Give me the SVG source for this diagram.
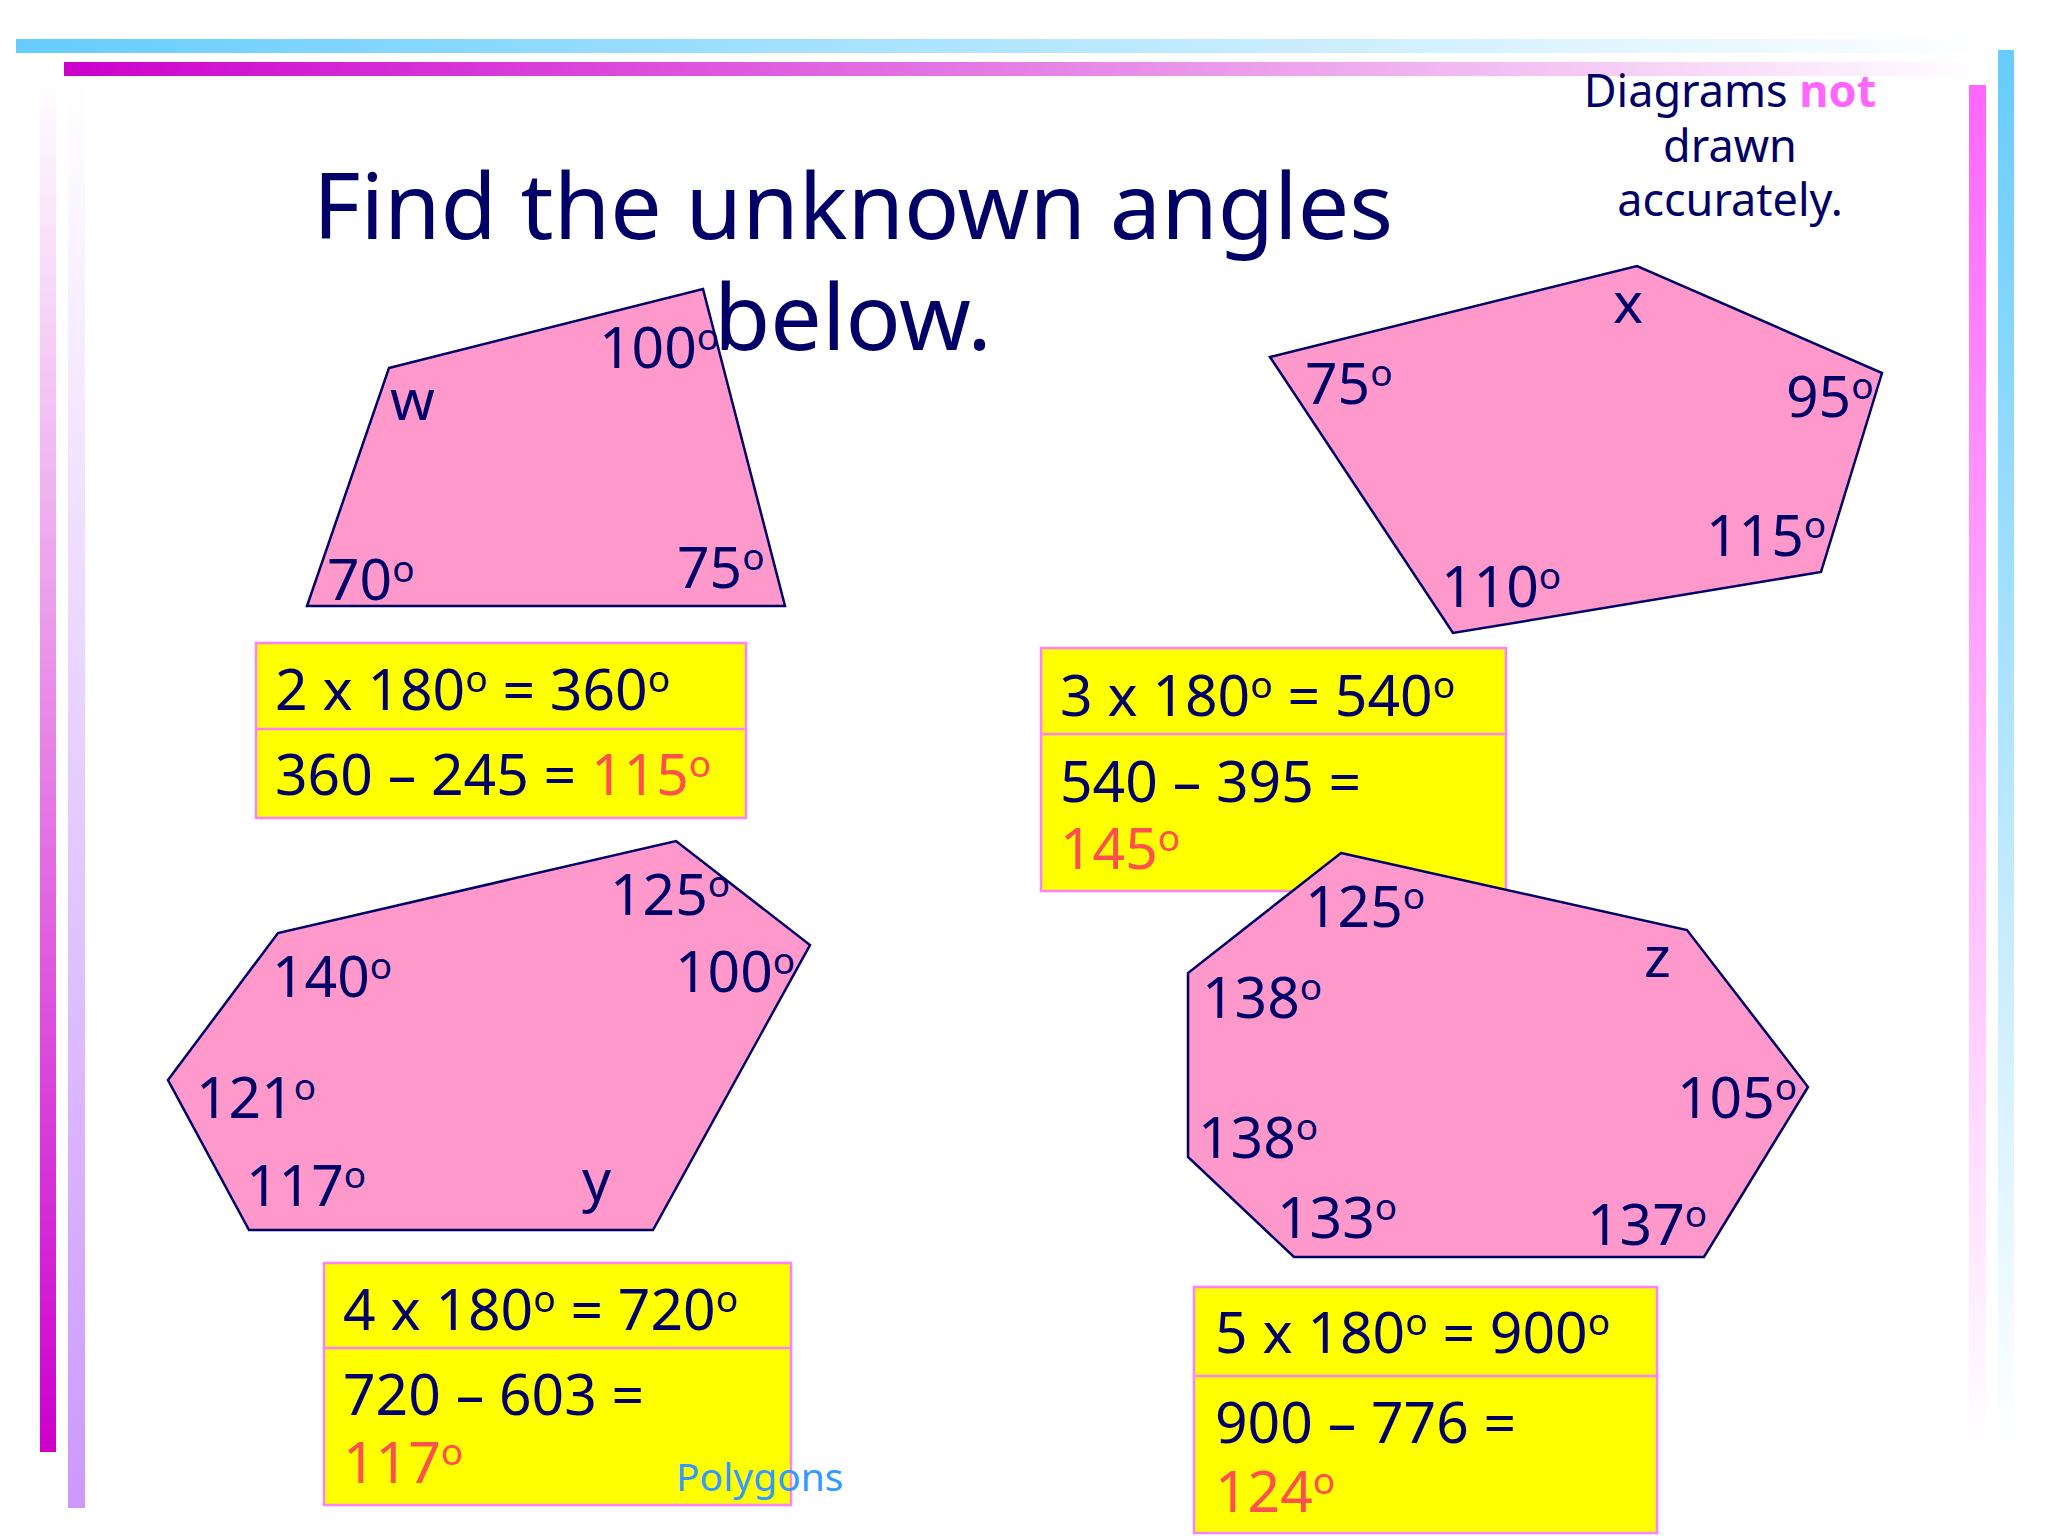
<svg xmlns="http://www.w3.org/2000/svg" width="2048" height="1536" viewBox="0 0 2048 1536">
<defs>
<linearGradient id="gBlueH" x1="0" y1="0" x2="1" y2="0"><stop offset="0" stop-color="#66CCFF"/><stop offset="1" stop-color="#FFFFFF"/></linearGradient>
<linearGradient id="gMagH" x1="0" y1="0" x2="1" y2="0"><stop offset="0" stop-color="#CC00CC"/><stop offset="1" stop-color="#FFFFFF"/></linearGradient>
<linearGradient id="gMagV" x1="0" y1="0" x2="0" y2="1"><stop offset="0" stop-color="#FFFFFF"/><stop offset="1" stop-color="#CC00CC"/></linearGradient>
<linearGradient id="gLavV" x1="0" y1="0" x2="0" y2="1"><stop offset="0" stop-color="#FFFFFF"/><stop offset="1" stop-color="#CC99FF"/></linearGradient>
<linearGradient id="gPinkV" x1="0" y1="0" x2="0" y2="1"><stop offset="0" stop-color="#FF66FF"/><stop offset="1" stop-color="#FFFFFF"/></linearGradient>
<linearGradient id="gBlueV" x1="0" y1="0" x2="0" y2="1"><stop offset="0" stop-color="#66CCFF"/><stop offset="1" stop-color="#FFFFFF"/></linearGradient>
<style>
text{font-family:"Noto Sans","Open Sans","DejaVu Sans",sans-serif;fill:#000066}
.poly{fill:#FF99CC;stroke:#000066;stroke-width:2.5;stroke-linejoin:miter}
.lbl{font-size:57px}
.s{font-size:37px}
.box{fill:#FFFF00;stroke:#FF80FF;stroke-width:2.5}
.ans{fill:#FF5050}
.title{font-size:91.5px;text-anchor:middle}
.note{font-size:45px;text-anchor:middle}
.not{fill:#FF66FF;font-weight:bold}
.foot{font-size:39px;fill:#3399FF}
</style>
</defs>
<rect width="2048" height="1536" fill="#FFFFFF"/>
<g id="bars">
<rect x="16" y="39" width="1975" height="14" fill="url(#gBlueH)"/>
<rect x="64" y="62" width="1915" height="14" fill="url(#gMagH)"/>
<rect x="40" y="78" width="16" height="1374" fill="url(#gMagV)"/>
<rect x="68" y="78" width="17" height="1430" fill="url(#gLavV)"/>
<rect x="1969" y="85" width="17" height="1365" fill="url(#gPinkV)"/>
<rect x="1998" y="50" width="16" height="1390" fill="url(#gBlueV)"/>
</g>
<g id="title">
<text class="title" x="853" y="239">Find the unknown angles</text>
<text class="title" x="853" y="350">below.</text>
</g>
<g id="note">
<text class="note" x="1730" y="107">Diagrams <tspan class="not">not</tspan></text>
<text class="note" x="1730" y="162">drawn</text>
<text class="note" x="1730" y="216">accurately.</text>
</g>
<g id="connectors"></g>
<g id="quadrilateral">
<polygon class="poly" points="389,368 703,289 785,606 307,606"/>
<text class="lbl" x="599" y="368">100<tspan class="s" dy="-18">o</tspan></text>
<text class="lbl" x="390" y="420">w</text>
<text class="lbl" x="327" y="600">70<tspan class="s" dy="-18">o</tspan></text>
<text class="lbl" x="677" y="588">75<tspan class="s" dy="-18">o</tspan></text>
</g>
<g id="pentagon">
<polygon class="poly" points="1270,357 1637,266 1882,373 1821,572 1453,633"/>
<text class="lbl" x="1613" y="323">x</text>
<text class="lbl" x="1305" y="404">75<tspan class="s" dy="-18">o</tspan></text>
<text class="lbl" x="1786" y="417">95<tspan class="s" dy="-18">o</tspan></text>
<text class="lbl" x="1706" y="556">115<tspan class="s" dy="-18">o</tspan></text>
<text class="lbl" x="1441" y="607">110<tspan class="s" dy="-18">o</tspan></text>
</g>
<g id="box1">
<rect class="box" x="256" y="643" width="490" height="175"/>
<line class="box" x1="256" y1="729" x2="746" y2="729"/>
<text class="lbl" x="275" y="710">2 x 180<tspan class="s" dy="-18">o</tspan><tspan dy="18"> = 360</tspan><tspan class="s" dy="-18">o</tspan></text>
<text class="lbl" x="275" y="795">360 – 245 = <tspan class="ans">115</tspan><tspan class="s ans" dy="-18">o</tspan></text>
</g>
<g id="box2">
<rect class="box" x="1041" y="648" width="465" height="243"/>
<line class="box" x1="1041" y1="734" x2="1506" y2="734"/>
<text class="lbl" x="1060" y="716">3 x 180<tspan class="s" dy="-18">o</tspan><tspan dy="18"> = 540</tspan><tspan class="s" dy="-18">o</tspan></text>
<text class="lbl" x="1060" y="802">540 – 395 =</text>
<text class="lbl ans" x="1060" y="869">145<tspan class="s" dy="-18">o</tspan></text>
</g>
<g id="hexagon">
<polygon class="poly" points="168,1080 278,933 676,841 810,945 653,1230 249,1230"/>
<text class="lbl" x="610" y="915">125<tspan class="s" dy="-18">o</tspan></text>
<text class="lbl" x="675" y="992">100<tspan class="s" dy="-18">o</tspan></text>
<text class="lbl" x="272" y="997">140<tspan class="s" dy="-18">o</tspan></text>
<text class="lbl" x="196" y="1118">121<tspan class="s" dy="-18">o</tspan></text>
<text class="lbl" x="246" y="1206">117<tspan class="s" dy="-18">o</tspan></text>
<text class="lbl" x="582" y="1200">y</text>
</g>
<g id="heptagon">
<polygon class="poly" points="1341,853 1687,930 1808,1087 1704,1257 1294,1257 1188,1157 1188,973"/>
<text class="lbl" x="1305" y="927">125<tspan class="s" dy="-18">o</tspan></text>
<text class="lbl" x="1644" y="977">z</text>
<text class="lbl" x="1202" y="1018">138<tspan class="s" dy="-18">o</tspan></text>
<text class="lbl" x="1677" y="1118">105<tspan class="s" dy="-18">o</tspan></text>
<text class="lbl" x="1198" y="1158">138<tspan class="s" dy="-18">o</tspan></text>
<text class="lbl" x="1277" y="1238">133<tspan class="s" dy="-18">o</tspan></text>
<text class="lbl" x="1587" y="1245">137<tspan class="s" dy="-18">o</tspan></text>
</g>
<g id="box3">
<rect class="box" x="324" y="1263" width="467" height="242"/>
<line class="box" x1="324" y1="1348" x2="791" y2="1348"/>
<text class="lbl" x="343" y="1330">4 x 180<tspan class="s" dy="-18">o</tspan><tspan dy="18"> = 720</tspan><tspan class="s" dy="-18">o</tspan></text>
<text class="lbl" x="343" y="1415">720 – 603 =</text>
<text class="lbl ans" x="343" y="1483">117<tspan class="s" dy="-18">o</tspan></text>
</g>
<g id="box4">
<rect class="box" x="1194" y="1287" width="463" height="246"/>
<line class="box" x1="1194" y1="1376" x2="1657" y2="1376"/>
<text class="lbl" x="1215" y="1353">5 x 180<tspan class="s" dy="-18">o</tspan><tspan dy="18"> = 900</tspan><tspan class="s" dy="-18">o</tspan></text>
<text class="lbl" x="1215" y="1443">900 – 776 =</text>
<text class="lbl ans" x="1215" y="1512">124<tspan class="s" dy="-18">o</tspan></text>
</g>
<g id="footer">
<text class="foot" x="676" y="1491">Polygons</text>
</g>
</svg>
